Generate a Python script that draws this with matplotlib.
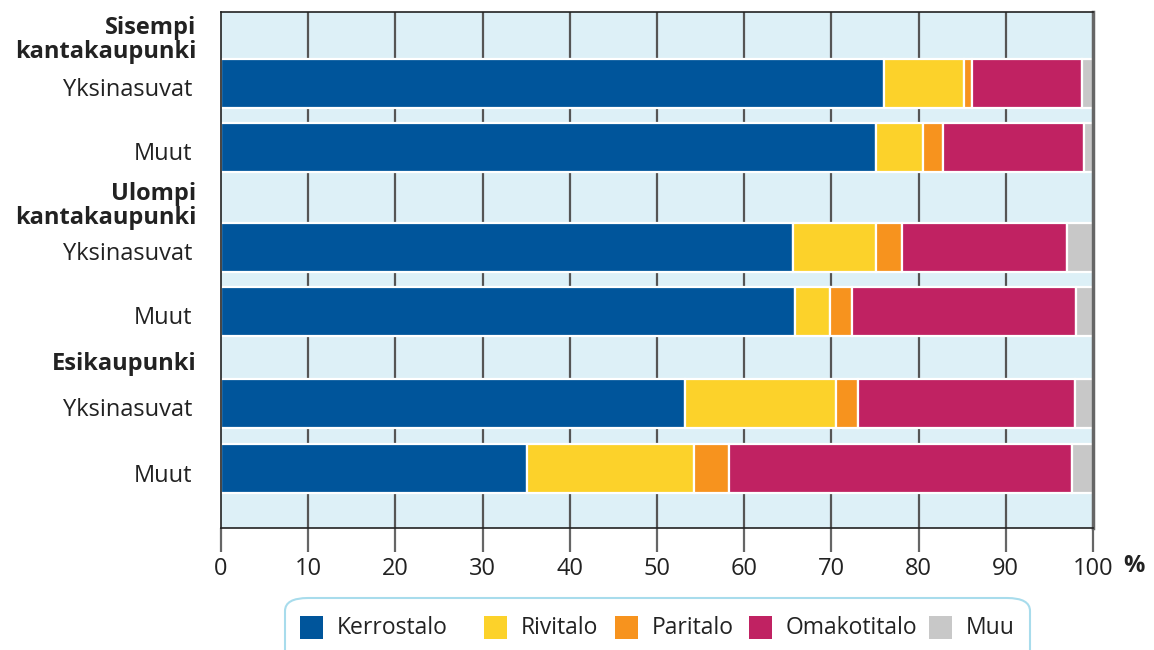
import matplotlib
matplotlib.use("Agg")
import matplotlib.pyplot as plt
from matplotlib.patches import FancyBboxPatch, Rectangle
import numpy as np

plt.rcParams['font.family'] = ['Open Sans', 'DejaVu Sans']

series = ["Kerrostalo", "Rivitalo", "Paritalo", "Omakotitalo", "Muu"]
colors = ["#00559B", "#FCD22A", "#F7931E", "#C02262", "#C8C8C8"]

row_labels = ["Yksinasuvat", "Muut", "Yksinasuvat", "Muut", "Yksinasuvat", "Muut"]
groups = ["Sisempi\nkantakaupunki", "Ulompi\nkantakaupunki", "Esikaupunki"]

kerrostalo  = [76.0, 75.1, 65.6, 65.8, 53.2, 35.1]
rivitalo    = [9.2, 5.4, 9.5, 4.0, 17.3, 19.2]
paritalo    = [0.9, 2.3, 3.0, 2.6, 2.6, 3.9]
omakotitalo = [12.6, 16.2, 18.9, 25.6, 24.8, 39.4]
muu         = [1.3, 1.0, 3.0, 2.0, 2.1, 2.4]

xticks = [0, 10, 20, 30, 40, 50, 60, 70, 80, 90, 100]

# layout (pixel-like vertical positions)
bar_pos = [83.5, 147, 247.5, 311.5, 403.5, 468.5]
group_pos = [40, 206, 364]
bar_h = 49

W, H = 1154, 650
fig = plt.figure(figsize=(W/100, H/100), dpi=100)
ax = fig.add_axes([221/W, 1 - 528/H, (1093-221)/W, (528-12)/H])
ax.set_facecolor("#DDF0F7")
ax.set_xlim(0, 100)
ax.set_ylim(528, 12)

for x in xticks[1:-1]:
    ax.axvline(x, color="#555555", lw=1.6, zorder=1)

data = [kerrostalo, rivitalo, paritalo, omakotitalo, muu]
left = np.zeros(len(bar_pos))
for vals, c in zip(data, colors):
    ax.barh(bar_pos, vals, left=left, height=bar_h, color=c,
            edgecolor="white", linewidth=1.6, zorder=2)
    left += np.array(vals)

for s in ["top", "left", "bottom"]:
    ax.spines[s].set_color("#222222")
    ax.spines[s].set_linewidth(1.2)
ax.spines["right"].set_color("#666666")
ax.spines["right"].set_linewidth(2.5)

ax.set_yticks([])
ax.set_xticks(xticks)
ax.set_xticklabels([str(t) for t in xticks], fontsize=17, color="#222222")
ax.tick_params(axis="x", length=17, width=1.6, color="#666666", pad=4)
fig.text(1123/W, 1 - 566/H, "%", fontsize=17, fontweight="bold",
         color="#222222", ha="left", va="center")

for y, lab in zip(bar_pos, row_labels):
    ax.text(-3.3, y + 7, lab, ha="right", va="center", fontsize=17,
            color="#222222", clip_on=False)
for y, g in zip(group_pos, groups):
    ax.text(-2.8, y, g, ha="right", va="center", fontsize=17, fontweight="bold",
            color="#222222", clip_on=False, linespacing=0.95)

# legend box
box = FancyBboxPatch((285/W, -0.05), (1030-285)/W, (650-598)/H + 0.05,
                     boxstyle="round,pad=0,rounding_size=0.02",
                     transform=fig.transFigure, facecolor="white",
                     edgecolor="#A8DCEC", linewidth=1.5, clip_on=False)
fig.patches.append(box)
sq_x = [300, 484, 615, 749, 929]
for sx, name, c in zip(sq_x, series, colors):
    fig.patches.append(Rectangle((sx/W, 1 - 639/H), 23/W, 23/H,
                                 transform=fig.transFigure, facecolor=c,
                                 edgecolor="none"))
    fig.text((sx + 37)/W, 1 - 628/H, name, fontsize=16.5, color="#222222",
             ha="left", va="center")

fig.savefig("out.png", dpi=100)
